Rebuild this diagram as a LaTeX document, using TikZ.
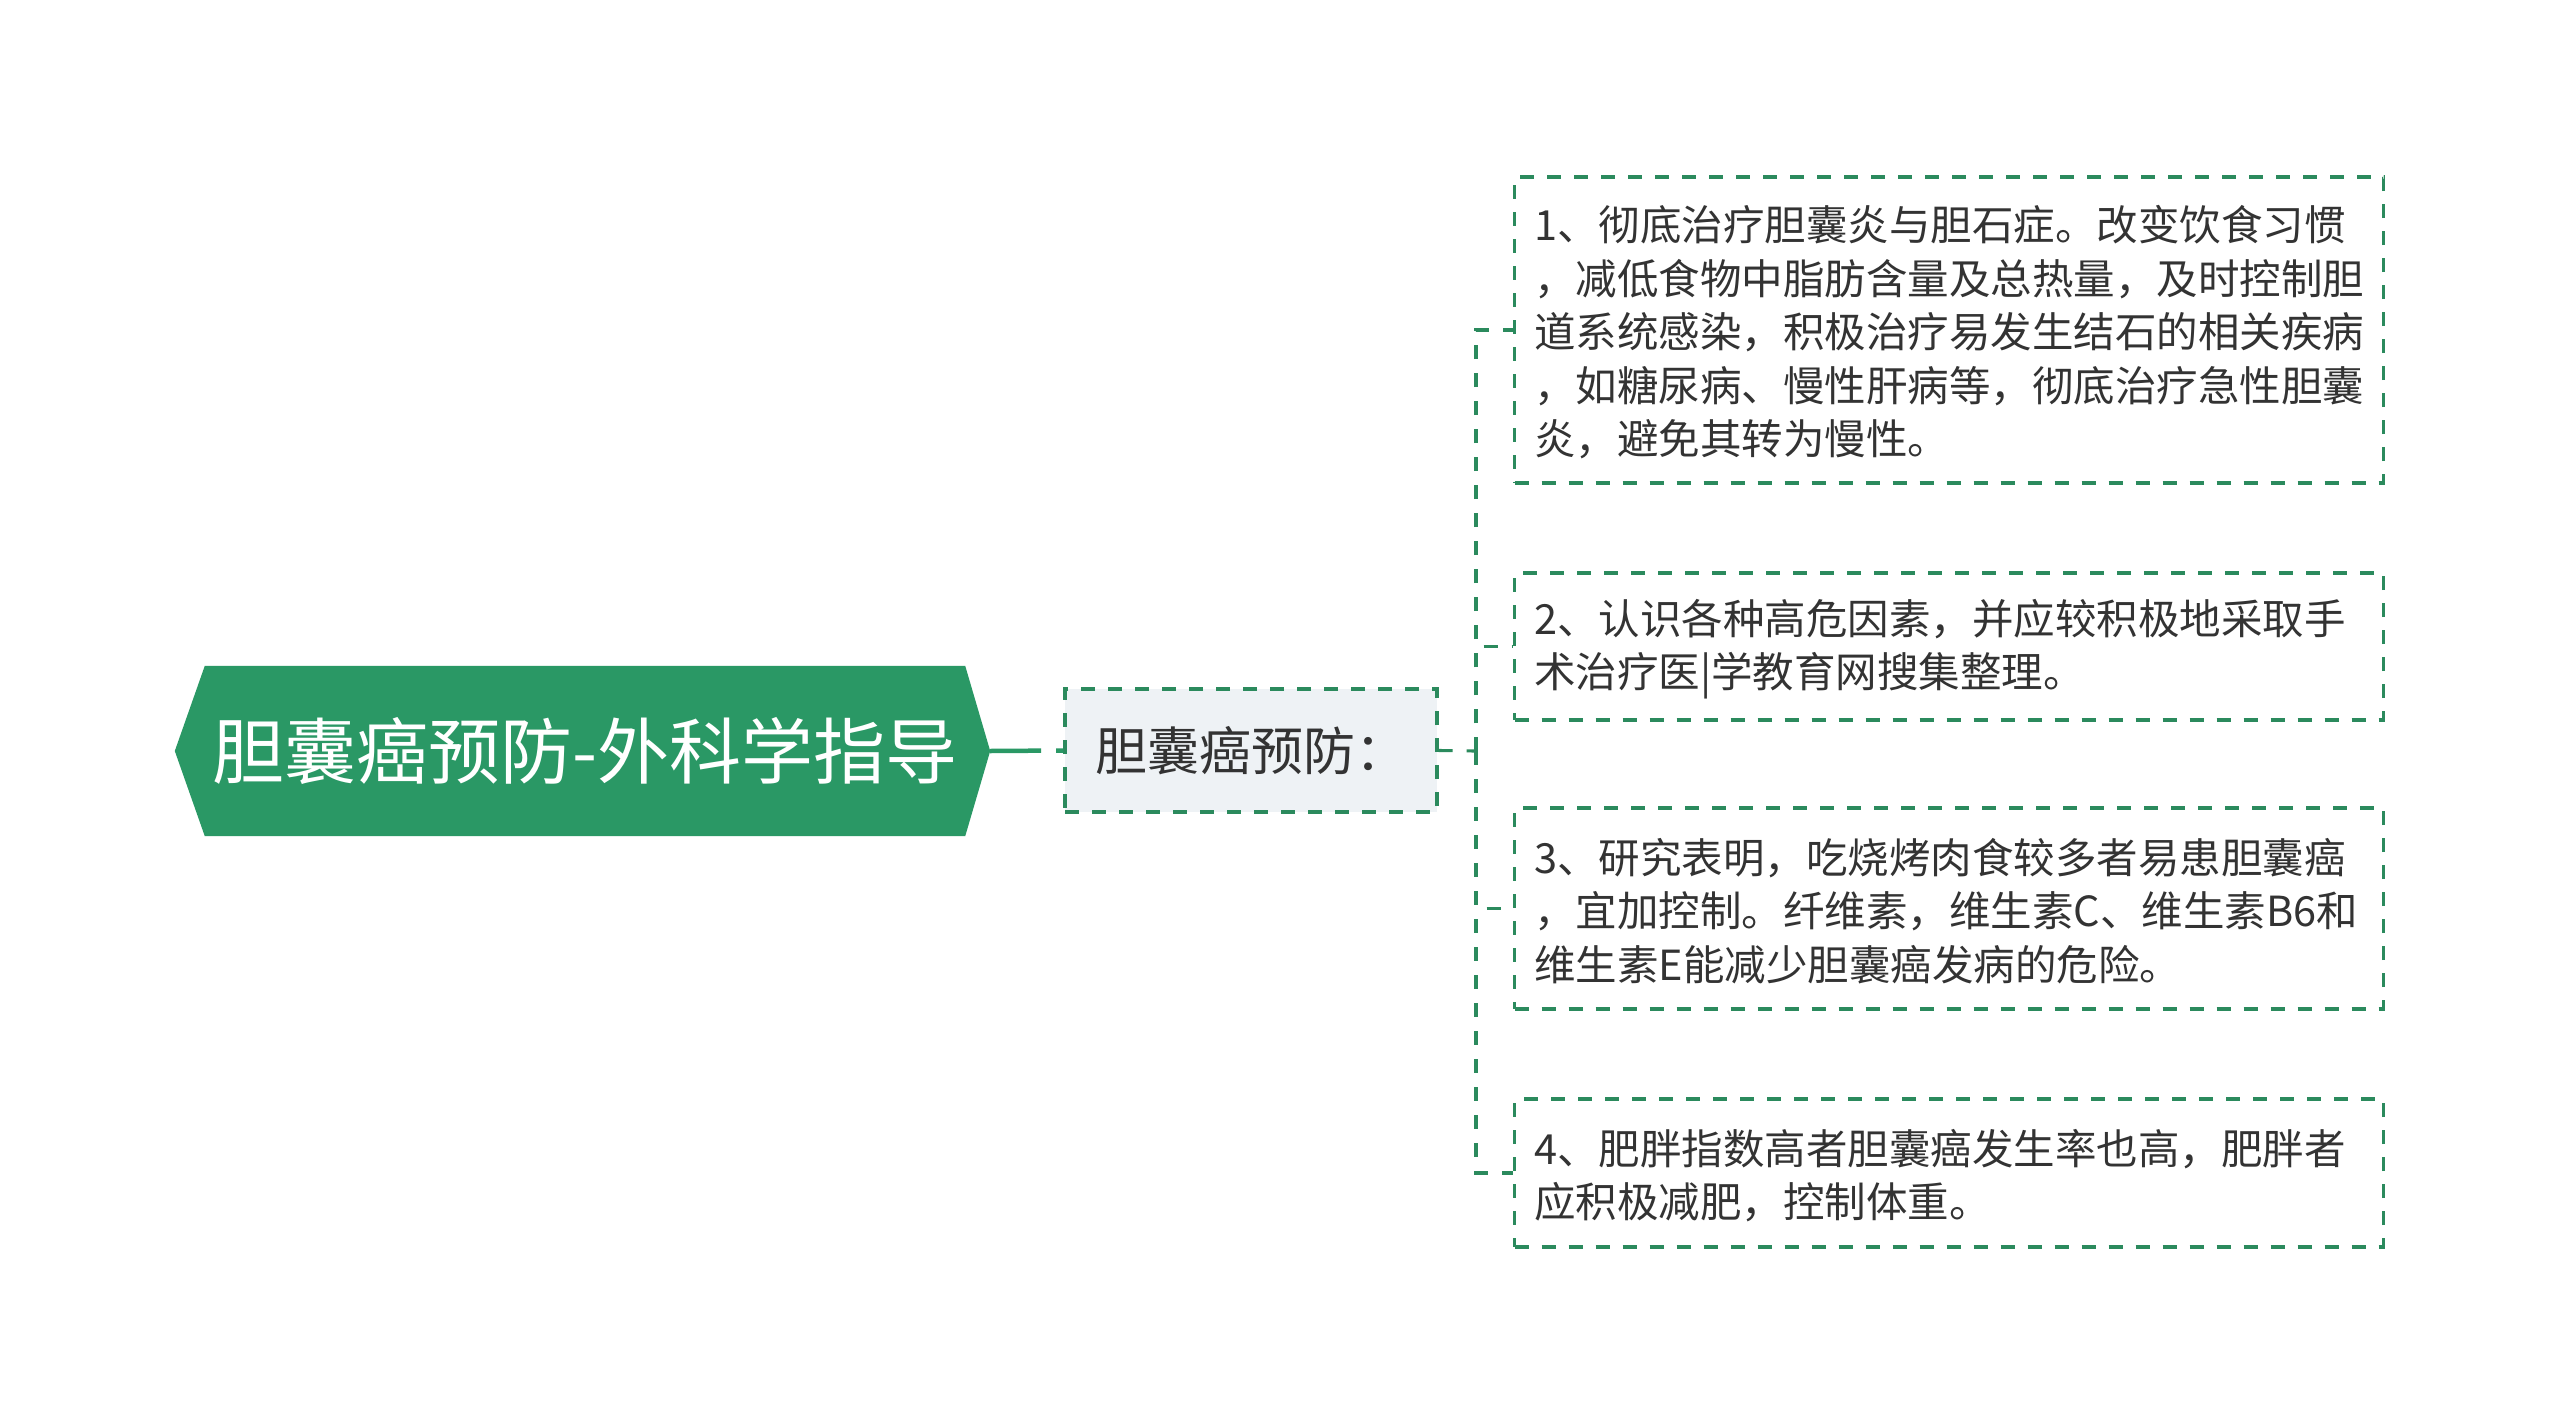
\documentclass[tikz,border=0pt]{standalone}
\usepackage{fontspec}
\setmainfont{Noto Sans CJK SC}
\usetikzlibrary{backgrounds}
\definecolor{mgreen}{HTML}{2A9865}
\definecolor{dgreen}{HTML}{2B8A5D}
\definecolor{subfill}{HTML}{EEF2F5}
\definecolor{txt}{HTML}{333333}
\begin{document}
\begin{tikzpicture}[x=1pt,y=-1pt,
  mainnode/.style={rectangle, inner sep=0pt, minimum width=760pt, minimum height=170pt, text=white, font=\fontsize{72}{86}\selectfont},
  subnode/.style={rectangle, draw=dgreen, fill=subfill, line width=3.1pt, dash pattern=on 14pt off 13pt, minimum width=372pt, minimum height=123pt, inner sep=0pt, text=txt, font=\fontsize{52}{62}\selectfont},
  leafnode/.style={rectangle, draw=dgreen, fill=white, line width=3.1pt, dash pattern=on 14pt off 13pt, minimum width=869pt, inner sep=0pt, text=txt, font=\fontsize{41.5}{53.5}\selectfont, anchor=west},
  tree/.style={draw=dgreen, line width=3.1pt, dash pattern=on 14pt off 14pt},
  link/.style={draw=mgreen, line width=4.5pt, dash pattern=on 51pt off 15pt on 40pt off 1pt}]
\useasboundingbox (0,0) rectangle (2560,1424);

\node[mainnode] (main) at (585,751) {胆囊癌预防-外科学指导};
\coordinate (mtip) at ([xshift=25pt]main.east);
\coordinate (mtail) at ([xshift=-30pt]main.west);
\begin{scope}[on background layer]
  \fill[white] (0,0) rectangle (2560,1424);
  \fill[mgreen] (main.north west) -- (main.north east) -- (mtip) -- (main.south east) -- (main.south west) -- (mtail) -- cycle;
\end{scope}

\node[subnode] (sub) at (1251,750.5) {胆囊癌预防：};
\coordinate (jn) at (1476,751);

\node[leafnode, minimum height=306pt] (c1) at (1513,330) {\hspace*{18pt}\parbox{848pt}{\raggedright\vspace*{5pt}
1、彻底治疗胆囊炎与胆石症。改变饮食习惯\\
，减低食物中脂肪含量及总热量，及时控制胆\\
道系统感染，积极治疗易发生结石的相关疾病\\
，如糖尿病、慢性肝病等，彻底治疗急性胆囊\\
炎，避免其转为慢性。}};

\node[leafnode, minimum height=147pt] (c2) at (1513,646.5) {\hspace*{18pt}\parbox{848pt}{\raggedright\vspace*{5pt}
2、认识各种高危因素，并应较积极地采取手\\
术治疗医|学教育网搜集整理。}};

\node[leafnode, minimum height=201pt] (c3) at (1513,908.5) {\hspace*{18pt}\parbox{848pt}{\raggedright\vspace*{5pt}
3、研究表明，吃烧烤肉食较多者易患胆囊癌\\
，宜加控制。纤维素，维生素C、维生素B6和\\
维生素E能减少胆囊癌发病的危险。}};

\node[leafnode, minimum height=148pt] (c4) at (1513,1173) {\hspace*{18pt}\parbox{848pt}{\raggedright\vspace*{5pt}
4、肥胖指数高者胆囊癌发生率也高，肥胖者\\
应积极减肥，控制体重。}};

\draw[link] (mtip) -- (sub.west);
\draw[tree] (sub.east) -- (jn);
\draw[tree] (jn) |- (c1.west);
\draw[tree] (jn) |- (c2.west);
\draw[tree] (jn) |- (c3.west);
\draw[tree] (jn) |- (c4.west);
\end{tikzpicture}
\end{document}
